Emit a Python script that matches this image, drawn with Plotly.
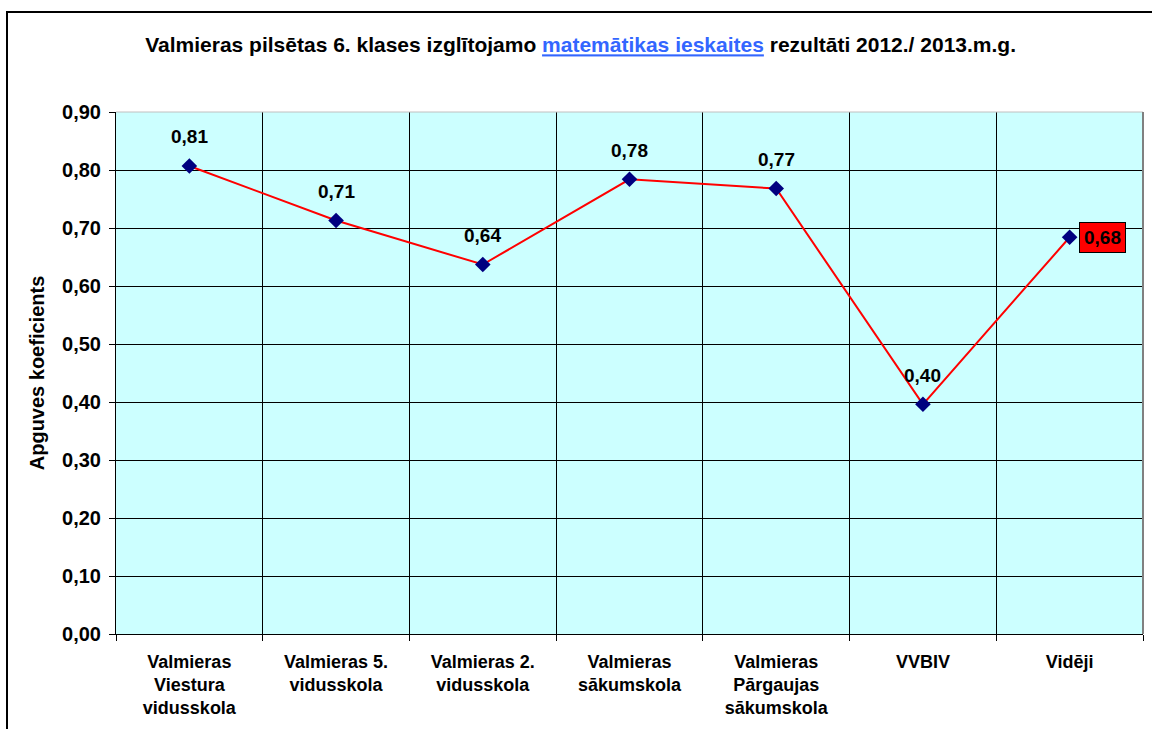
import plotly.graph_objects as go

categories = [
    "Valmieras<br>Viestura<br>vidusskola",
    "Valmieras 5.<br>vidusskola",
    "Valmieras 2.<br>vidusskola",
    "Valmieras<br>sākumskola",
    "Valmieras<br>Pārgaujas<br>sākumskola",
    "VVBIV",
    "Vidēji",
]
values = [0.807, 0.713, 0.637, 0.784, 0.768, 0.396, 0.684]
y_ticks = [0.0, 0.1, 0.2, 0.3, 0.4, 0.5, 0.6, 0.7, 0.8, 0.9]

FONT = "Liberation Sans, Arial, sans-serif"

def fmt(v):
    return f"{v:.2f}".replace(".", ",")

fig = go.Figure()
fig.add_trace(go.Scatter(
    x=categories, y=values, mode="lines+markers",
    line=dict(color="#FF0000", width=2),
    marker=dict(symbol="diamond", size=12, color="#000080"),
    hoverinfo="skip", showlegend=False,
))

annotations = []
for i, (c, v) in enumerate(zip(categories, values)):
    if i < len(values) - 1:
        annotations.append(dict(
            x=c, y=v, xref="x", yref="y", text=f"<b>{fmt(v)}</b>",
            showarrow=False, yshift=29,
            font=dict(family=FONT, size=19, color="black"),
        ))
    else:
        annotations.append(dict(
            x=c, y=v, xref="x", yref="y", text=f"<b>{fmt(v)}</b>",
            showarrow=False, xanchor="left", xshift=9,
            bgcolor="#FF0000", bordercolor="black", borderwidth=1, borderpad=4,
            font=dict(family=FONT, size=19, color="black"),
        ))

title_text = ("<b>Valmieras pilsētas 6. klases izglītojamo "
              "<span style='color:#3366FF;text-decoration:underline'>matemātikas ieskaites</span>"
              " rezultāti 2012./ 2013.m.g.</b>")

fig.update_layout(
    width=1152, height=729,
    margin=dict(l=116, r=9, t=112, b=95),
    paper_bgcolor="white", plot_bgcolor="#CCFFFF",
    font=dict(family=FONT, color="black"),
    separators=",.",
    hovermode=False,
    title=dict(text=title_text, x=0.504, xanchor="center", y=1 - 45 / 729,
               yanchor="middle", yref="container",
               font=dict(family=FONT, size=21, color="black")),
    annotations=annotations,
    xaxis=dict(
        type="category", range=[-0.5, len(categories) - 0.5],
        tickson="boundaries", ticks="outside", ticklen=6,
        tickcolor="black", showgrid=True, gridcolor="black", gridwidth=1,
        showline=True, linecolor="black", linewidth=1,
        tickfont=dict(family=FONT, size=18, color="black", weight="bold"),
        ticklabelstandoff=11, fixedrange=True, automargin=False,
    ),
    yaxis=dict(
        range=[0, 0.9], tickvals=y_ticks,
        ticktext=[fmt(t) for t in y_ticks],
        ticks="outside", ticklen=6, tickcolor="black",
        showgrid=True, gridcolor="black", gridwidth=1, zeroline=False,
        showline=True, linecolor="black", linewidth=1,
        tickfont=dict(family=FONT, size=20, color="black", weight="bold"),
        ticklabelstandoff=4,
        title=dict(text="<b>Apguves koeficients</b>", standoff=12,
                   font=dict(family=FONT, size=20, color="black")),
        fixedrange=True, automargin=False,
    ),
    shapes=[
        dict(type="line", xref="x domain", yref="y domain", x0=0, x1=1, y0=1, y1=1,
             line=dict(color="#C0C0C0", width=1)),
        dict(type="line", xref="x domain", yref="y domain", x0=1, x1=1, y0=0, y1=1,
             line=dict(color="#808080", width=2)),
        dict(type="rect", xref="paper", yref="paper",
             x0=(7 - 116) / 1027, x1=1.2, y0=-0.5, y1=1 + (112 - 12) / 522,
             line=dict(color="black", width=2), fillcolor="rgba(0,0,0,0)", layer="below"),
    ],
)

fig.write_html("out.html", config={"displayModeBar": False},
               post_script="document.body.style.margin='0';")
